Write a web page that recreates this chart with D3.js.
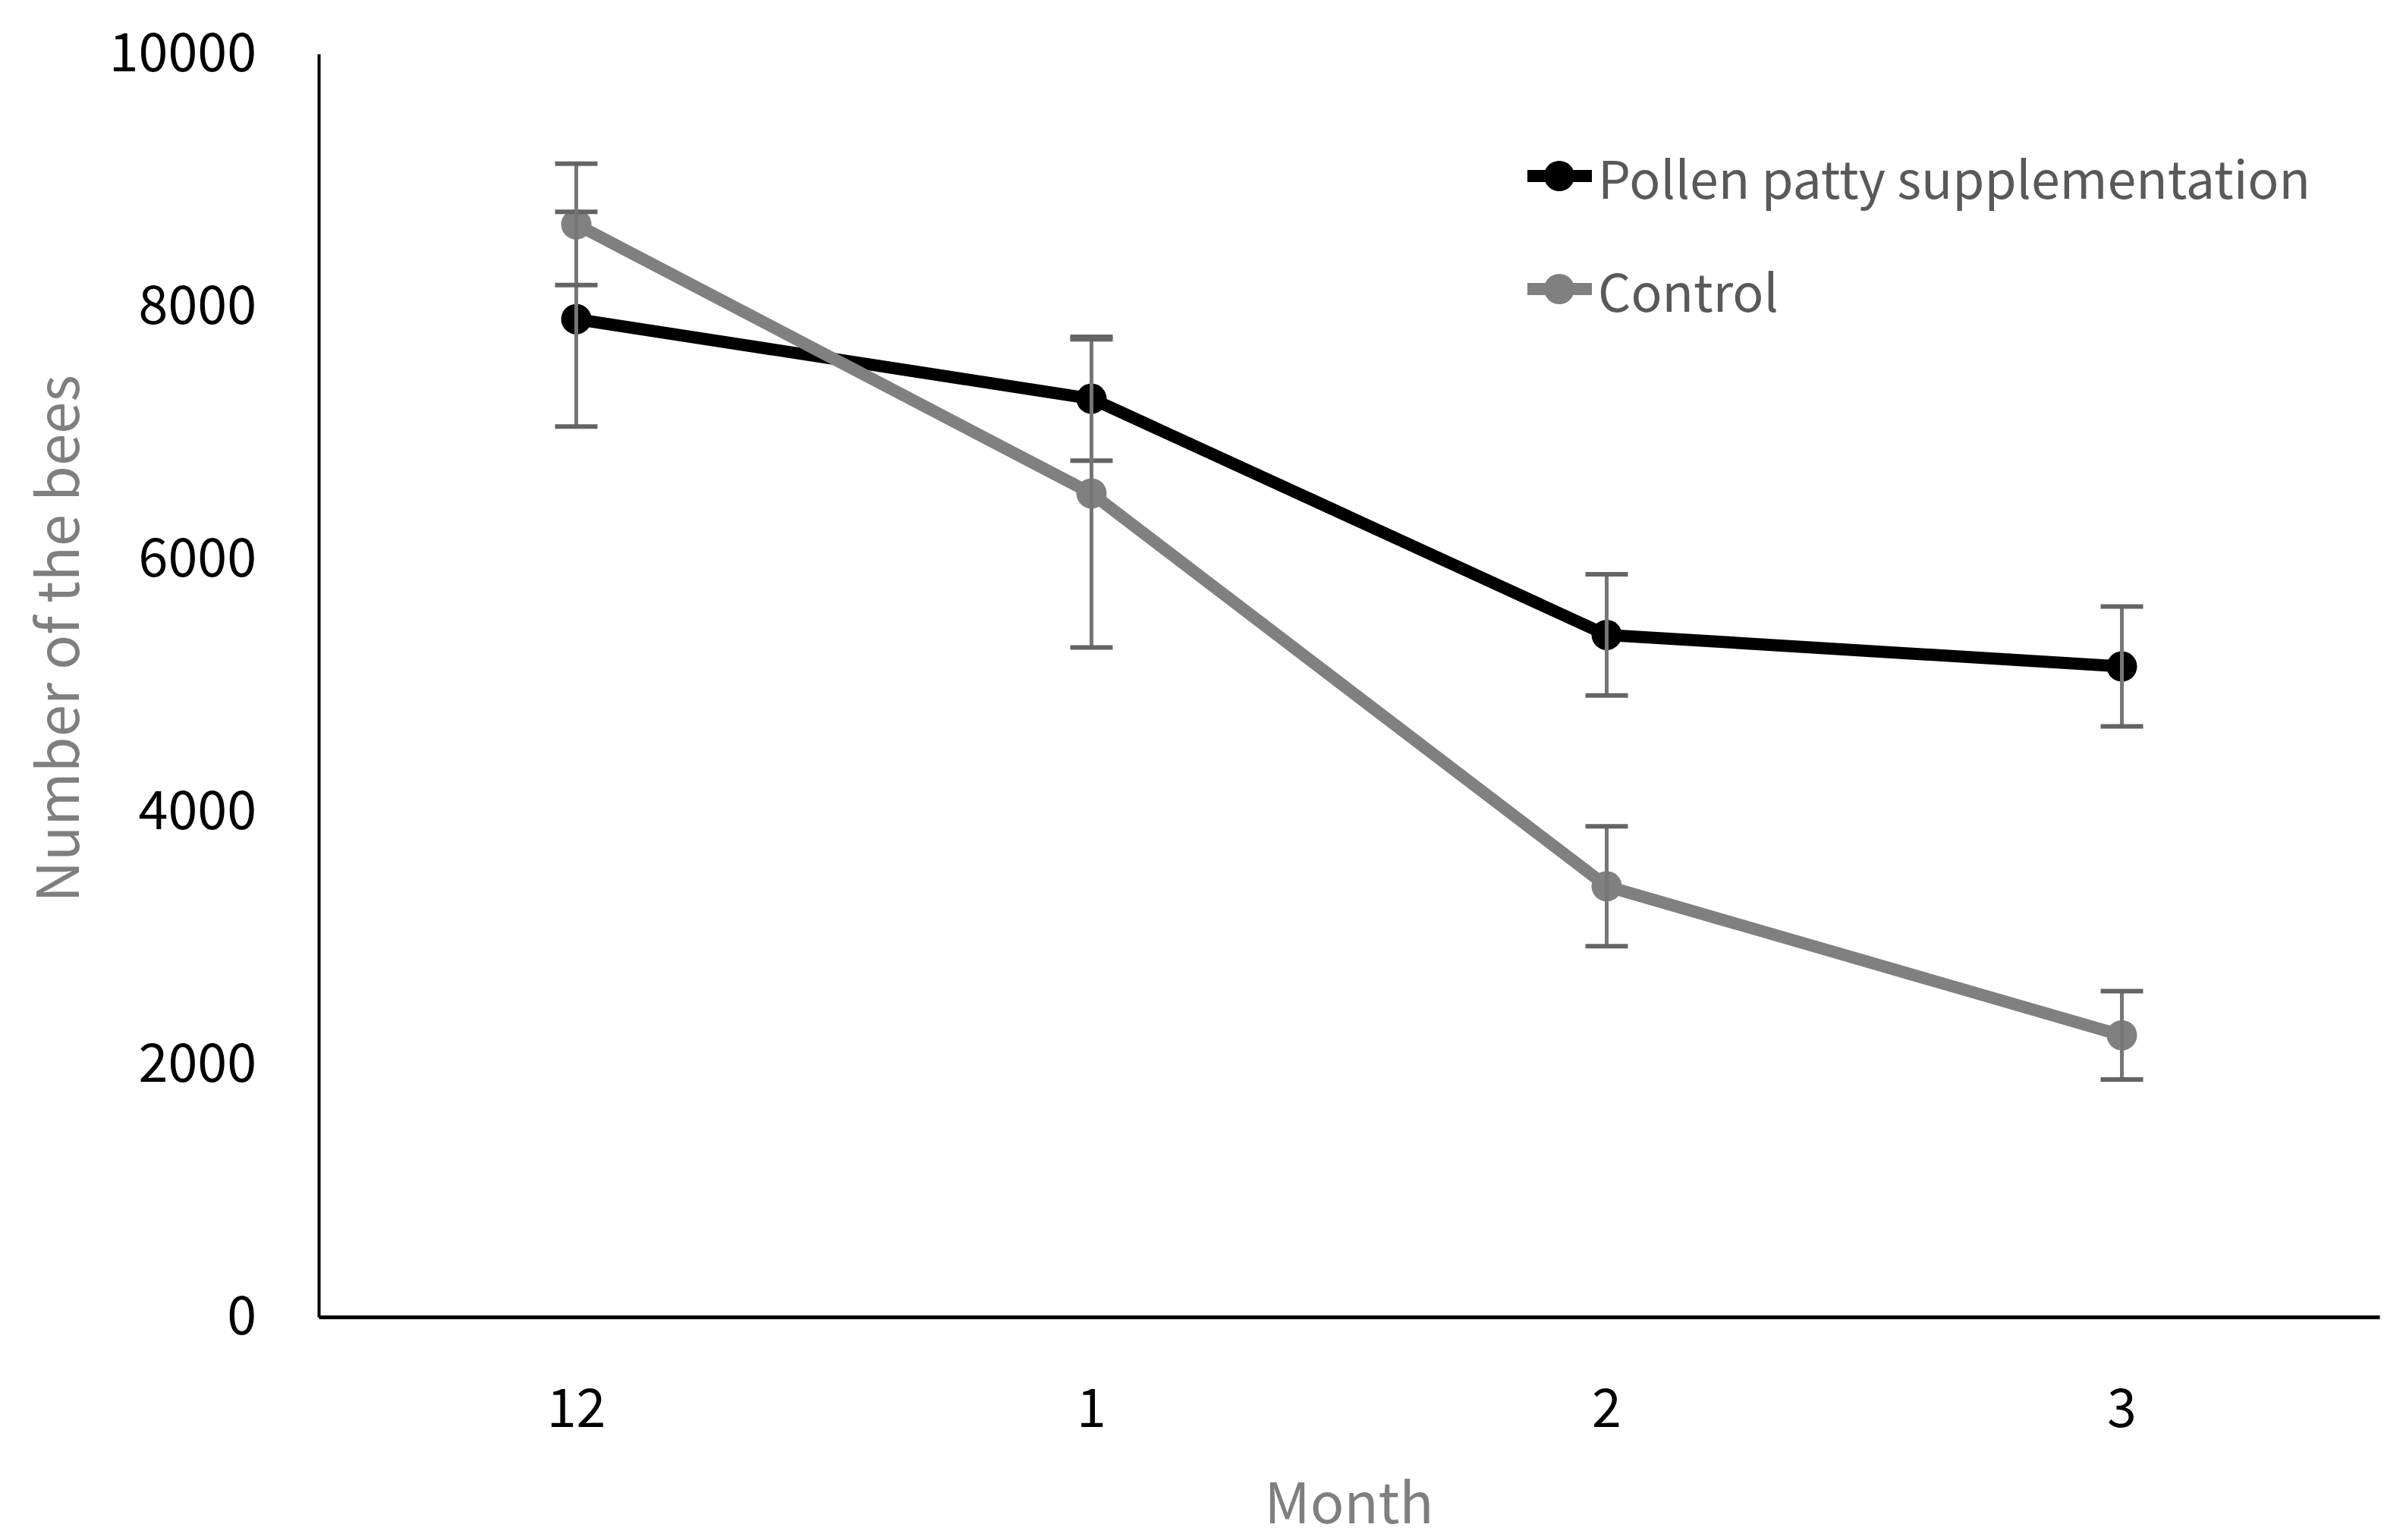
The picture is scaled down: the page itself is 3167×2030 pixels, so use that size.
<!DOCTYPE html>
<html>
<head>
<meta charset="utf-8">
<script src="https://cdn.jsdelivr.net/npm/d3@7"></script>
<style>
  body { margin: 0; background: #fff; }
  svg { display: block; font-family: "Noto Sans CJK KR", "Noto Sans", sans-serif; }
</style>
</head>
<body>
<div id="chart"></div>
<script>
const months = ["12", "1", "2", "3"];
const pollenValues = [7900, 7270, 5400, 5150];
const pollenErrors = [850, 490, 480, 475];
const controlValues = [8650, 6520, 3410, 2230];
const controlErrors = [480, 1220, 475, 350];
const yTicks = [0, 2000, 4000, 6000, 8000, 10000];
const seriesNames = ["Pollen patty supplementation", "Control"];

const width = 3167;
const height = 2030;
const margin = { top: 71, right: 31, bottom: 294, left: 420 };
const fontFamily = '"Noto Sans CJK KR", "Noto Sans", sans-serif';

const series = [
  { name: seriesNames[0], values: pollenValues, errors: pollenErrors, color: "#000000" },
  { name: seriesNames[1], values: controlValues, errors: controlErrors, color: "#808080" },
];

let svg = d3
  .select("#chart")
  .append("svg")
  .attr("width", width)
  .attr("height", height);

let xScale = d3
  .scaleBand()
  .domain(months)
  .range([margin.left, width - margin.right])
  .padding(0);

let yScale = d3
  .scaleLinear()
  .domain([0, 10000])
  .range([height - margin.bottom, margin.top]);

// y axis
let yAxis = svg
  .append("g")
  .attr("transform", `translate(${margin.left},0)`)
  .call(
    d3.axisLeft(yScale)
      .tickValues(yTicks)
      .tickFormat(d3.format("d"))
      .tickSize(0)
      .tickPadding(82)
      .tickSizeOuter(0)
  )
  .attr("font-family", fontFamily)
  .attr("font-size", 70);
yAxis.select(".domain").attr("stroke", "#000").attr("stroke-width", 4);
yAxis.selectAll("text").attr("fill", "#000");

// x axis
let xAxis = svg
  .append("g")
  .attr("transform", `translate(0,${height - margin.bottom})`)
  .call(d3.axisBottom(xScale).tickSize(0).tickPadding(95).tickSizeOuter(0))
  .attr("font-family", fontFamily)
  .attr("font-size", 70);
xAxis.select(".domain").attr("stroke", "#000").attr("stroke-width", 5);
xAxis.selectAll("text").attr("fill", "#000");

// axis titles
svg
  .append("text")
  .attr("x", (margin.left + width - margin.right) / 2)
  .attr("y", 1975)
  .attr("text-anchor", "middle")
  .attr("dominant-baseline", "central")
  .attr("font-size", 74)
  .attr("fill", "#7f7f7f")
  .text("Month");

svg
  .append("text")
  .attr("transform", `translate(71,842) rotate(-90)`)
  .attr("text-anchor", "middle")
  .attr("dominant-baseline", "central")
  .attr("font-size", 76)
  .attr("fill", "#7f7f7f")
  .text("Number of the bees");

let cx = (i) => xScale(months[i]) + xScale.bandwidth() / 2;

let line = d3
  .line()
  .x((d, i) => cx(i))
  .y((d) => yScale(d));

// lines and markers
series.forEach((s) => {
  svg
    .append("path")
    .datum(s.values)
    .attr("fill", "none")
    .attr("stroke", s.color)
    .attr("stroke-width", 16)
    .attr("stroke-linejoin", "round")
    .attr("d", line);

  svg
    .append("g")
    .selectAll("circle")
    .data(s.values)
    .join("circle")
    .attr("cx", (d, i) => cx(i))
    .attr("cy", (d) => yScale(d))
    .attr("r", 20)
    .attr("fill", s.color);
});

// error bars
series.forEach((s) => {
  let g = svg.append("g").attr("stroke", "#646464").attr("stroke-width", 6);
  s.values.forEach((v, i) => {
    let x = cx(i);
    let top = yScale(v + s.errors[i]);
    let bot = yScale(v - s.errors[i]);
    g.append("line").attr("x1", x).attr("x2", x).attr("y1", top).attr("y2", bot).attr("stroke", "#767676").attr("stroke-width", 5);
    g.append("line").attr("x1", x - 28).attr("x2", x + 28).attr("y1", top).attr("y2", top);
    g.append("line").attr("x1", x - 28).attr("x2", x + 28).attr("y1", bot).attr("y2", bot);
  });
});

// legend
let legendY = [232, 381];
series.forEach((s, i) => {
  let g = svg.append("g").attr("transform", `translate(2013,${legendY[i]})`);
  g.append("line").attr("x1", 0).attr("x2", 85).attr("stroke", s.color).attr("stroke-width", 16);
  g.append("circle").attr("cx", 42).attr("r", 20).attr("fill", s.color);
  g.append("text")
    .attr("x", 93)
    .attr("dominant-baseline", "central")
    .attr("font-size", 68)
    .attr("fill", "#595959")
    .text(s.name);
});
</script>
</body>
</html>
